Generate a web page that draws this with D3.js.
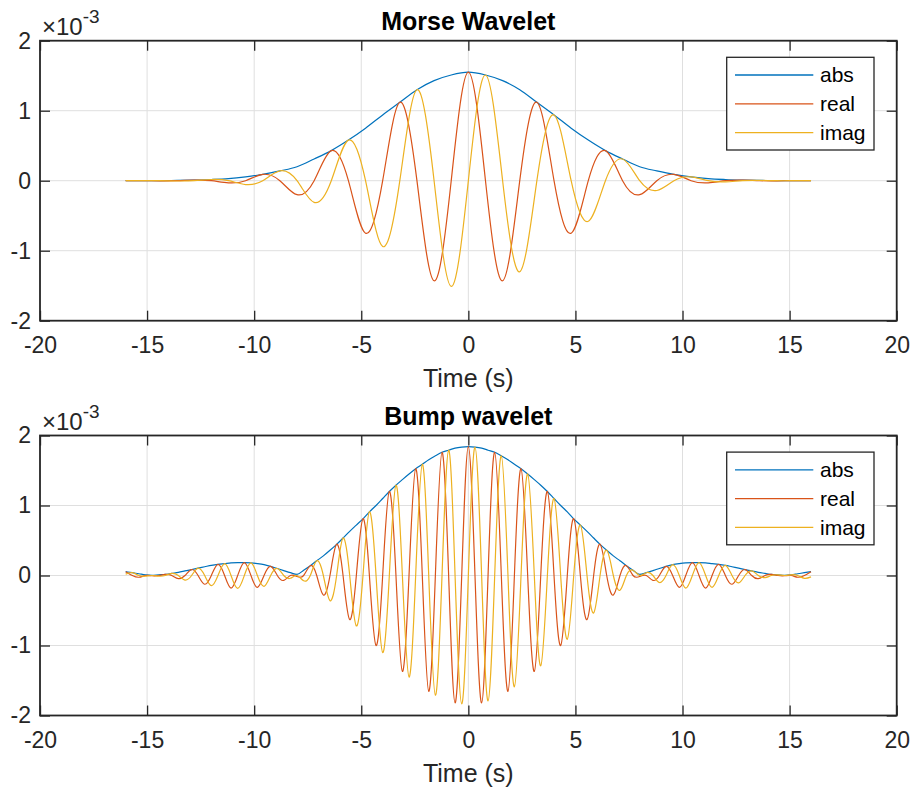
<!DOCTYPE html>
<html>
<head>
	<meta charset="UTF-8"/>
	<title>Morse and Bump wavelets</title>
	<style type="text/css">
		body {
			margin: 0;
			background: #fff;
			font-family: 'Liberation Sans', Arial, sans-serif;
		}
		svg { display: block; }
		.tick text {
			font-family: 'Liberation Sans', Arial, sans-serif;
			font-size: 23px;
			fill: #262626;
		}
		.tick line { stroke: #262626; stroke-width: 1.3; }
		.grid line { stroke: #dfdfdf; stroke-width: 1; }
		.box { fill: none; stroke: #262626; stroke-width: 1.8; }
		.title { font-size: 25px; font-weight: bold; fill: #000; }
		.xlabel { font-size: 25px; fill: #262626; }
		.expo { fill: #262626; }
		.legend rect { fill: #fff; stroke: #262626; stroke-width: 1.3; }
		.legend text { font-size: 21px; fill: #000; }
		.wave { fill: none; stroke-width: 1.2; }
	</style>
	<script src="https://d3js.org/d3.v7.min.js"></script>
</head>
<body>
<svg width="910" height="790"></svg>
<script>
	// values are in units of 1e-3 (the axes show the x10^-3 multiplier)
	const xTicks = [-20, -15, -10, -5, 0, 5, 10, 15, 20];
	const yTicks = [-2, -1, 0, 1, 2];
	const seriesNames = ['abs', 'real', 'imag'];
	const seriesColors = ['#0072BD', '#D95319', '#EDB120'];

	// Morse wavelet, read at the extrema / zero crossings (every 0.8 s)
	const morseT = [-16, -15.2, -14.4, -13.6, -12.8, -12, -11.2, -10.4, -9.6, -8.8,
		-8, -7.2, -6.4, -5.6, -4.8, -4, -3.2, -2.4, -1.6, -0.8, 0,
		0.8, 1.6, 2.4, 3.2, 4, 4.8, 5.6, 6.4, 7.2, 8,
		8.8, 9.6, 10.4, 11.2, 12, 12.8, 13.6, 14.4, 15.2, 16];
	const morseAbs = [0, 0.001, 0.002, 0.004, 0.009, 0.017, 0.03, 0.055, 0.09, 0.14,
		0.2, 0.31, 0.43, 0.58, 0.75, 0.94, 1.12, 1.3, 1.43, 1.51, 1.55,
		1.51, 1.43, 1.3, 1.12, 0.94, 0.75, 0.58, 0.43, 0.31, 0.2,
		0.14, 0.09, 0.055, 0.03, 0.017, 0.009, 0.004, 0.002, 0.001, 0];
	const morseReal = [0, 0, -0.002, 0, 0.009, 0, -0.03, 0, 0.09, 0,
		-0.2, 0, 0.43, 0, -0.75, 0, 1.12, 0, -1.43, 0, 1.55,
		0, -1.43, 0, 1.12, 0, -0.75, 0, 0.43, 0, -0.2,
		0, 0.09, 0, -0.03, 0, 0.009, 0, -0.002, 0, 0];
	const morseImag = [0, 0, 0, -0.004, 0, 0.017, 0, -0.055, 0, 0.14,
		0, -0.31, 0, 0.58, 0, -0.94, 0, 1.3, 0, -1.51, 0,
		1.51, 0, -1.3, 0, 0.94, 0, -0.58, 0, 0.31, 0,
		-0.14, 0, 0.055, 0, -0.017, 0, 0.004, 0, 0, 0];

	// Bump wavelet, read at the extrema / zero crossings (quarter periods)
	const bumpT = [-16, -15.69, -15.38, -15.08, -14.77, -14.46, -14.15, -13.85, -13.54, -13.23,
		-12.92, -12.62, -12.31, -12, -11.69, -11.38, -11.08, -10.77, -10.46, -10.15,
		-9.85, -9.54, -9.23, -8.92, -8.62, -8.31, -8, -7.69, -7.38, -7.08,
		-6.77, -6.46, -6.15, -5.85, -5.54, -5.23, -4.92, -4.62, -4.31, -4,
		-3.69, -3.38, -3.08, -2.77, -2.46, -2.15, -1.85, -1.54, -1.23, -0.92,
		-0.62, -0.31, 0,
		0.31, 0.62, 0.92, 1.23, 1.54, 1.85, 2.15, 2.46, 2.77, 3.08,
		3.38, 3.69, 4, 4.31, 4.62, 4.92, 5.23, 5.54, 5.85, 6.15,
		6.46, 6.77, 7.08, 7.38, 7.69, 8, 8.31, 8.62, 8.92, 9.23,
		9.54, 9.85, 10.15, 10.46, 10.77, 11.08, 11.38, 11.69, 12, 12.31,
		12.62, 12.92, 13.23, 13.54, 13.85, 14.15, 14.46, 14.77, 15.08, 15.38,
		15.69, 16];
	const bumpAbs = [0.055, 0.04, 0.025, 0.01, 0.003, 0.01, 0.015, 0.03, 0.045, 0.065,
		0.085, 0.105, 0.125, 0.145, 0.16, 0.17, 0.18, 0.185, 0.185, 0.18,
		0.17, 0.155, 0.13, 0.1, 0.07, 0.04, 0.015, 0.075, 0.14, 0.21,
		0.28, 0.36, 0.445, 0.535, 0.63, 0.72, 0.81, 0.91, 1, 1.1,
		1.2, 1.29, 1.37, 1.45, 1.525, 1.59, 1.655, 1.71, 1.76, 1.79,
		1.82, 1.835, 1.84,
		1.835, 1.82, 1.79, 1.76, 1.71, 1.655, 1.59, 1.525, 1.45, 1.37,
		1.29, 1.2, 1.1, 1, 0.91, 0.81, 0.72, 0.63, 0.535, 0.445,
		0.36, 0.28, 0.21, 0.14, 0.075, 0.015, 0.04, 0.07, 0.1, 0.13,
		0.155, 0.17, 0.18, 0.185, 0.185, 0.18, 0.17, 0.16, 0.145, 0.125,
		0.105, 0.085, 0.065, 0.045, 0.03, 0.015, 0.01, 0.003, 0.01, 0.025,
		0.04, 0.055];
	const bumpReal = [0.055, 0, -0.025, 0, -0.003, 0, 0.015, 0, -0.045, 0,
		0.085, 0, -0.125, 0, 0.16, 0, -0.18, 0, 0.185, 0,
		-0.17, 0, 0.13, 0, -0.07, 0, -0.015, 0, 0.14, 0,
		-0.28, 0, 0.445, 0, -0.63, 0, 0.81, 0, -1, 0,
		1.2, 0, -1.37, 0, 1.525, 0, -1.655, 0, 1.76, 0,
		-1.82, 0, 1.84,
		0, -1.82, 0, 1.76, 0, -1.655, 0, 1.525, 0, -1.37,
		0, 1.2, 0, -1, 0, 0.81, 0, -0.63, 0, 0.445,
		0, -0.28, 0, 0.14, 0, -0.015, 0, -0.07, 0, 0.13,
		0, -0.17, 0, 0.185, 0, -0.18, 0, 0.16, 0, -0.125,
		0, 0.085, 0, -0.045, 0, 0.015, 0, -0.003, 0, -0.025,
		0, 0.055];
	const bumpImag = [0.02, 0.04, 0, -0.01, 0, -0.01, 0, 0.03, 0, -0.065,
		0, 0.105, 0, -0.145, 0, 0.17, 0, -0.185, 0, 0.18,
		0, -0.155, 0, 0.1, 0, -0.04, 0, -0.075, 0, 0.21,
		0, -0.36, 0, 0.535, 0, -0.72, 0, 0.91, 0, -1.1,
		0, 1.29, 0, -1.45, 0, 1.59, 0, -1.71, 0, 1.79,
		0, -1.835, 0,
		1.835, 0, -1.79, 0, 1.71, 0, -1.59, 0, 1.45, 0,
		-1.29, 0, 1.1, 0, -0.91, 0, 0.72, 0, -0.535, 0,
		0.36, 0, -0.21, 0, 0.075, 0, 0.04, 0, -0.1, 0,
		0.155, 0, -0.18, 0, 0.185, 0, -0.17, 0, 0.145, 0,
		-0.105, 0, 0.065, 0, -0.03, 0, 0.01, 0, 0.01, 0,
		-0.04, -0.02];

	const svg = d3.select('svg');
	const plotLeft = 40, plotRight = 896.7, plotH = 280;

	const x = d3.scaleLinear().domain([-20, 20]).range([plotLeft, plotRight]);

	const panels = [
		{ title: 'Morse Wavelet', top: 40.7, t: morseT, data: [morseAbs, morseReal, morseImag] },
		{ title: 'Bump wavelet', top: 435.5, t: bumpT, data: [bumpAbs, bumpReal, bumpImag] }
	];

	panels.forEach(p => {
		const y = d3.scaleLinear().domain([-2, 2]).range([p.top + plotH, p.top]);
		const g = svg.append('g');

		// grid
		const grid = g.append('g').attr('class', 'grid');
		grid.selectAll('.gx').data(xTicks).enter().append('line')
			.attr('x1', d => x(d)).attr('x2', d => x(d))
			.attr('y1', y(-2)).attr('y2', y(2));
		grid.selectAll('.gy').data(yTicks).enter().append('line')
			.attr('x1', x(-20)).attr('x2', x(20))
			.attr('y1', d => y(d)).attr('y2', d => y(d));

		// waves: abs, real, imag (imag drawn last, on top)
		p.data.forEach((vals, i) => {
			const pts = p.t.map((t, j) => [t, vals[j]]);
			const line = d3.line()
				.x(d => x(d[0]))
				.y(d => y(d[1]))
				.curve(i === 0 ? d3.curveMonotoneX : d3.curveNatural);
			g.append('path')
				.attr('class', 'wave')
				.attr('stroke', seriesColors[i])
				.attr('d', line(pts));
		});

		// axes, ticks pointing inward
		const fmt = d => String(d);
		g.append('g')
			.attr('transform', `translate(0,${y(-2)})`)
			.call(d3.axisBottom(x).tickValues(xTicks).tickFormat(fmt).tickSizeInner(-10).tickSizeOuter(0).tickPadding(16));
		g.append('g')
			.attr('transform', `translate(0,${y(2)})`)
			.call(d3.axisTop(x).tickValues(xTicks).tickFormat('').tickSizeInner(-10).tickSizeOuter(0));
		g.append('g')
			.attr('transform', `translate(${plotLeft},0)`)
			.call(d3.axisLeft(y).tickValues(yTicks).tickFormat(fmt).tickSizeInner(-10).tickSizeOuter(0).tickPadding(9));
		g.append('g')
			.attr('transform', `translate(${plotRight},0)`)
			.call(d3.axisRight(y).tickValues(yTicks).tickFormat('').tickSizeInner(-10).tickSizeOuter(0));
		g.selectAll('.domain').remove();

		g.append('rect')
			.attr('class', 'box')
			.attr('x', plotLeft).attr('y', p.top)
			.attr('width', plotRight - plotLeft).attr('height', plotH);

		// titles and labels
		g.append('text')
			.attr('class', 'title')
			.attr('x', x(0)).attr('y', p.top - 11)
			.attr('text-anchor', 'middle')
			.text(p.title);
		g.append('text')
			.attr('class', 'xlabel')
			.attr('x', x(0)).attr('y', p.top + plotH + 66)
			.attr('text-anchor', 'middle')
			.text('Time (s)');

		const expo = g.append('text')
			.attr('class', 'expo')
			.attr('x', 42).attr('y', p.top - 6);
		expo.append('tspan').attr('font-size', '24px').text('\u00d710');
		expo.append('tspan').attr('font-size', '19px').attr('dy', -12).text('-3');

		// legend
		const lg = g.append('g')
			.attr('class', 'legend')
			.attr('transform', `translate(726.7,${p.top + 16.6})`);
		lg.append('rect').attr('width', 147.3).attr('height', 92.7);
		seriesNames.forEach((name, i) => {
			const ry = 17.7 + i * 28.8;
			lg.append('line')
				.attr('x1', 8.3).attr('x2', 86.6)
				.attr('y1', ry).attr('y2', ry)
				.attr('stroke', seriesColors[i])
				.attr('stroke-width', 1.3);
			lg.append('text')
				.attr('x', 93.3).attr('y', ry + 7.5)
				.text(name);
		});
	});
</script>
</body>
</html>
